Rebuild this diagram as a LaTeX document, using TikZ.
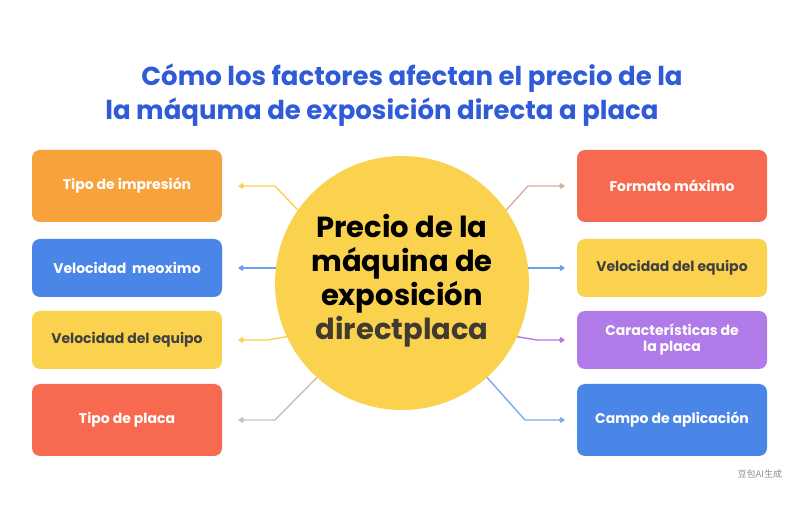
\documentclass[tikz,border=0pt]{standalone}
\usepackage{fontspec}
\setmainfont{Poppins}
\newfontfamily\cjk{Noto Sans CJK SC}
\usetikzlibrary{arrows.meta,calc}
\definecolor{cOr}{HTML}{F7A23A}
\definecolor{cBl}{HTML}{4A86E8}
\definecolor{cYe}{HTML}{FAD24E}
\definecolor{cRe}{HTML}{F76A4F}
\definecolor{cPu}{HTML}{B07AE8}
\definecolor{cTi}{HTML}{2F5BD8}
\definecolor{cBr}{HTML}{D9B09A}
\definecolor{cGr}{HTML}{C8C0C0}
\tikzset{
  box/.style={rounded corners=8pt,minimum width=190pt,align=center,font=\fontsize{14}{16}\selectfont\bfseries,inner sep=2pt},
  conn/.style={line width=1.4pt,-{Kite[length=6pt,width=6pt]}},
}
\begin{document}
\begin{tikzpicture}[x=1pt,y=1pt]
\useasboundingbox (0,0) rectangle (800,530);
\fill[white] (0,0) rectangle (800,530);
\node[font=\fontsize{26}{32}\selectfont\bfseries,text=cTi] (t1) at (412,452) {Cómo los factores afectan el precio de la};
\node[font=\fontsize{26}{32}\selectfont\bfseries,text=cTi] (t2) at (382,418) {la máquma de exposición directa a placa};
\node[circle,fill=cYe,minimum size=254pt,inner sep=0pt] (c) at (402,247) {};
\node[font=\fontsize{29}{34}\selectfont\bfseries,align=center] at (402,249) {Precio de la\\máquina de\\exposición\\\textcolor[HTML]{403A30}{directplaca}};
% left boxes
\node[box,fill=cOr,text=white,minimum height=72pt] (l1) at (127,344) {Tipo de impresión};
\node[box,fill=cBl,text=white,minimum height=58pt] (l2) at (127,262) {Velocidad\ \ meoximo};
\node[box,fill=cYe,text=black!75,minimum height=58pt] (l3) at (127,190) {Velocidad del equipo};
\node[box,fill=cRe,text=white,minimum height=72pt] (l4) at (127,110) {Tipo de placa};
% right boxes
\node[box,fill=cRe,text=white,minimum height=72pt] (r1) at (672,344) {Formato máximo};
\node[box,fill=cYe,text=black!75,minimum height=58pt] (r2) at (672,262) {Velocidad del equipo};
\node[box,fill=cPu,text=white,minimum height=58pt] (r3) at (672,190) {Características de\\la placa};
\node[box,fill=cBl,text=white,minimum height=72pt] (r4) at (672,110) {Campo de aplicación};
% connectors
\coordinate (la1) at (238,344); \coordinate (la2) at (238,262);
\coordinate (la3) at (238,190); \coordinate (la4) at (238,110);
\coordinate (ra1) at (565,344); \coordinate (ra2) at (565,262);
\coordinate (ra3) at (565,190); \coordinate (ra4) at (565,110);
\draw[conn,cYe] (c.145) -- (275,344) -- (la1);
\draw[conn,cBl!80] ($(c.center)+(-126,15)$) -- (la2);
\draw[conn,cYe] (c.205) -- (267,190) -- (la3);
\draw[conn,cGr] (c.228) -- (275,110) -- (la4);
\draw[conn,cBr] (c.35) -- (528,344) -- (ra1);
\draw[conn,cBl!80] ($(c.center)+(126,15)$) -- (ra2);
\draw[conn,cPu] (c.335) -- (537,190) -- (ra3);
\draw[conn,cBl!70] (c.312) -- (525,110) -- (ra4);
\node[font=\cjk\fontsize{9}{10}\selectfont,text=black!45] (wm) at (760,56) {豆包AI生成};
\end{tikzpicture}
\end{document}
